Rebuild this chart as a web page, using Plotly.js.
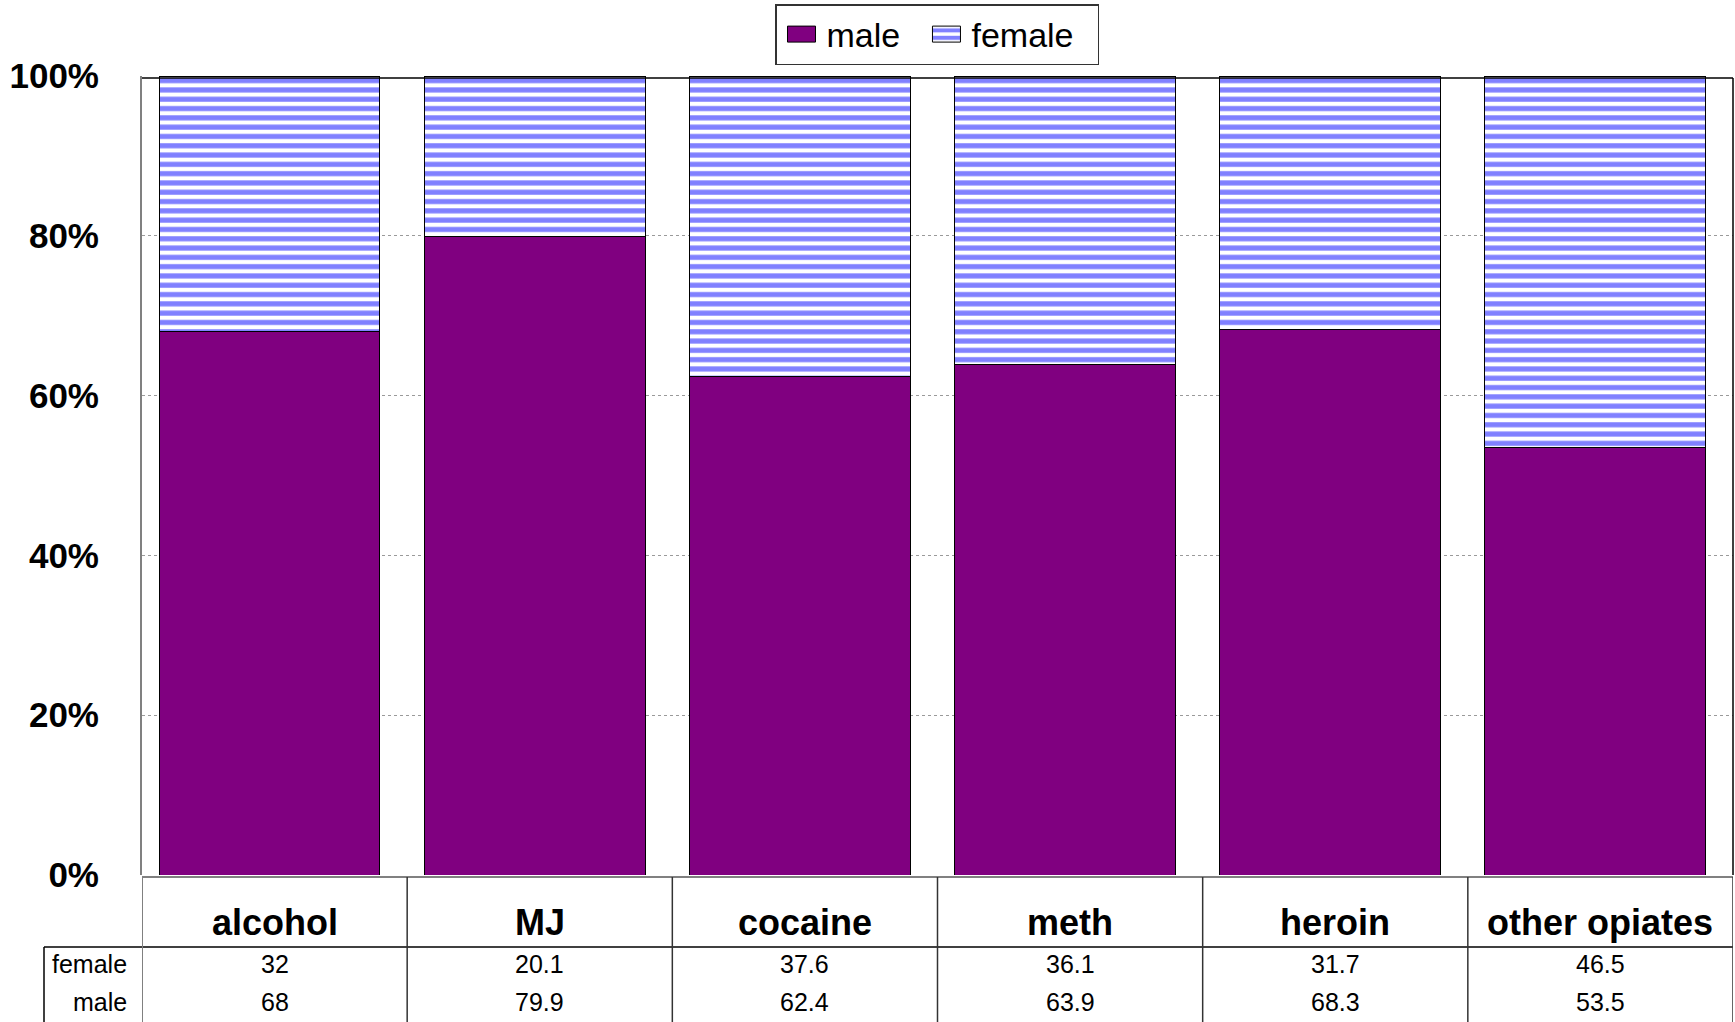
<!DOCTYPE html>
<html>
<head>
<meta charset="utf-8">
<script src="https://cdn.plot.ly/plotly-3.0.1.min.js"></script>
<style>html,body{margin:0;padding:0;background:#fff;}#chart{width:1735px;height:1022px;}</style>
</head>
<body>
<div id="chart"></div>
<script>
const categories = ["alcohol", "MJ", "cocaine", "meth", "heroin", "other opiates"];
const maleValues = [68, 79.9, 62.4, 63.9, 68.3, 53.5];
const femaleValues = [32, 20.1, 37.6, 36.1, 31.7, 46.5];
const maleLabels = ["68", "79.9", "62.4", "63.9", "68.3", "53.5"];
const femaleLabels = ["32", "20.1", "37.6", "36.1", "31.7", "46.5"];
const yTickValues = [0, 20, 40, 60, 80, 100];

const FONT = "Liberation Sans, Arial, sans-serif";
const W = 1735, H = 1022;
const L = 142, R = 2, T = 76, B = 147;
const plotH = H - T - B;
const plotW = W - L - R;
const py = (pix) => (H - B - pix) / plotH;      // pixel y -> paper y
const px = (pix) => (pix - L) / plotW;          // pixel x -> paper x

const BAR_W = 0.833;
const BAR_OFF = -BAR_W / 2 - 0.019;

const traces = [
  {
    type: "bar", name: "male\u00a0\u2009", x: categories, y: maleValues,
    width: BAR_W, offset: BAR_OFF,
    marker: {color: "#800080", line: {color: "#000", width: 1}},
    hoverinfo: "skip"
  },
  {
    type: "bar", name: "female\u00a0\u00a0", x: categories, y: femaleValues,
    width: BAR_W, offset: BAR_OFF,
    marker: {
      color: "#ffffff",
      line: {color: "#000", width: 1},
      pattern: {shape: "-", fgcolor: "#8080FF", bgcolor: "#ffffff", fgopacity: 1,
                size: 9.3, solidity: 0.55, fillmode: "replace"}
    },
    hoverinfo: "skip"
  }
];

const annotations = [];
categories.forEach((c, i) => {
  annotations.push({xref: "x", yref: "paper", x: c, y: py(922), text: c, showarrow: false,
    xanchor: "center", yanchor: "middle", font: {family: FONT, size: 36, color: "#000", weight: "bold"}});
  annotations.push({xref: "x", yref: "paper", x: c, y: py(964), text: femaleLabels[i], showarrow: false,
    xanchor: "center", yanchor: "middle", font: {family: FONT, size: 25, color: "#000"}});
  annotations.push({xref: "x", yref: "paper", x: c, y: py(1002), text: maleLabels[i], showarrow: false,
    xanchor: "center", yanchor: "middle", font: {family: FONT, size: 25, color: "#000"}});
});
annotations.push({xref: "paper", yref: "paper", x: px(129), y: py(964), text: "female", showarrow: false,
  xanchor: "right", yanchor: "middle", font: {family: FONT, size: 25, color: "#000"}});
annotations.push({xref: "paper", yref: "paper", x: px(129), y: py(1002), text: "male", showarrow: false,
  xanchor: "right", yanchor: "middle", font: {family: FONT, size: 25, color: "#000"}});

const shapes = [];
shapes.push({type: "line", xref: "paper", yref: "paper", x0: 0, x1: 1, y0: py(877), y1: py(877), line: {color: "#808080", width: 2}});
shapes.push({type: "line", xref: "paper", yref: "paper", x0: px(44), x1: 1, y0: py(947), y1: py(947), line: {color: "#000", width: 1.5}});
shapes.push({type: "line", xref: "paper", yref: "paper", x0: px(44), x1: px(44), y0: py(947), y1: py(1022), line: {color: "#000", width: 1.5}});
for (let k = 0; k <= categories.length; k++) {
  shapes.push({type: "line", xref: "x", yref: "paper", x0: k - 0.5, x1: k - 0.5, y0: py(877), y1: py(1022),
    line: {color: k === 0 ? "#808080" : "#333", width: k === 0 ? 2 : 1.5}});
}
shapes.push({type: "line", xref: "paper", yref: "paper", x0: 0, x1: 1, y0: py(78), y1: py(78), line: {color: "#000", width: 1.5}});
shapes.push({type: "line", xref: "paper", yref: "paper", x0: 1, x1: 1, y0: 0, y1: py(78), line: {color: "#000", width: 1.5}});

const layout = {
  width: W, height: H,
  margin: {l: L, r: R, t: T, b: B, pad: 0},
  paper_bgcolor: "#fff", plot_bgcolor: "#fff",
  barmode: "stack",
  showlegend: true,
  legend: {
    orientation: "h", x: px(775), y: py(4), xanchor: "left", yanchor: "top",
    bgcolor: "#fff", bordercolor: "#333", borderwidth: 1.5,
    font: {family: FONT, size: 34, color: "#000"},
    traceorder: "normal", itemwidth: 40
  },
  xaxis: {
    type: "category", range: [-0.5, categories.length - 0.5],
    showticklabels: false, ticks: "", showgrid: false, zeroline: false, showline: false, fixedrange: true
  },
  yaxis: {
    range: [0, 100], tickvals: yTickValues, ticktext: yTickValues.map(v => v + "%"),
    tickfont: {family: FONT, size: 35, color: "#000", weight: "bold"},
    ticks: "outside", ticklen: 34, tickcolor: "rgba(0,0,0,0)",
    showgrid: true, gridcolor: "#9a9a9a", griddash: "dot", gridwidth: 1,
    zeroline: false, showline: true, linecolor: "#808080", linewidth: 2, fixedrange: true
  },
  annotations: annotations,
  shapes: shapes
};

Plotly.newPlot("chart", traces, layout, {displayModeBar: false, staticPlot: true}).then(function (gd) {
  // enlarge the legend swatches to the wide rectangles of the reference
  gd.querySelectorAll(".legend .legendpoints path").forEach(function (p) {
    p.setAttribute("d", "M14,8H-14V-8H14Z");
  });
});
</script>
</body>
</html>
